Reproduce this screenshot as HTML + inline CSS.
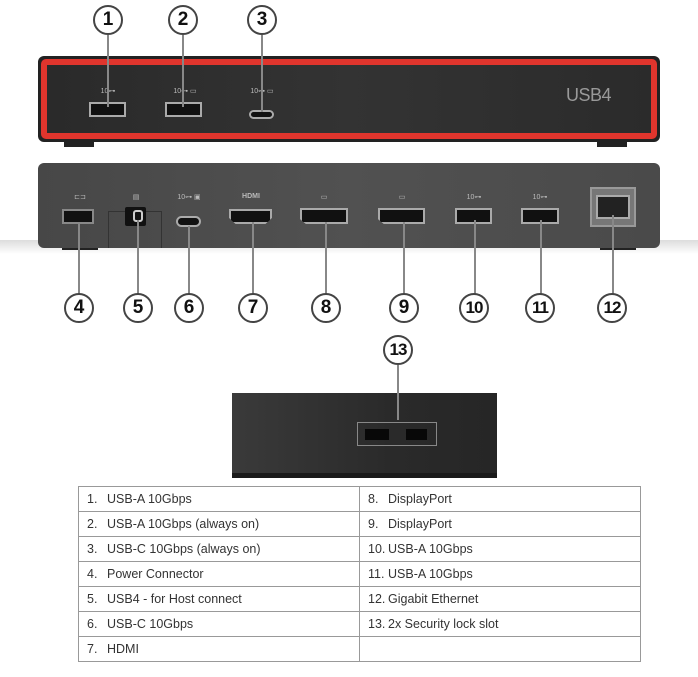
<!DOCTYPE html>
<html><head><style>
*{margin:0;padding:0;box-sizing:border-box}
body{width:698px;height:677px;background:#fff;position:relative;overflow:hidden;font-family:"Liberation Sans",sans-serif}
.a{position:absolute}
.c{position:absolute;width:30px;height:30px;border:2px solid #444;border-radius:50%;background:#fff;font:bold 19px "Liberation Sans",sans-serif;text-align:center;line-height:26px;color:#111}
.l{position:absolute;width:2px;background:#888}
.usb{position:absolute;background:#111;border:2px solid #aaa}
.ic{position:absolute;color:#bbb;font-size:7px;text-align:center}
table{position:absolute;left:78px;top:486px;border-collapse:collapse;font-size:12.5px;color:#333}
td{border:1px solid #999;height:25px;padding:0 0 0 8px;width:281px}
td span{display:inline-block;width:20px}
</style></head><body>
<!-- front device -->
<div class="a" style="left:64px;top:138px;width:30px;height:9px;background:#222"></div>
<div class="a" style="left:597px;top:138px;width:30px;height:9px;background:#222"></div>
<div class="a" style="left:38px;top:56px;width:622px;height:86px;background:#222;border-radius:6px"></div>
<div class="a" style="left:41px;top:59px;width:616px;height:80px;background:#e0352d;border-radius:5px"></div>
<div class="a" style="left:47px;top:65px;width:604px;height:68px;background:linear-gradient(90deg,#2a2a2a,#333 50%,#2b2b2b)"></div>
<div class="usb" style="left:89px;top:102px;width:37px;height:15px"></div>
<div class="usb" style="left:165px;top:102px;width:37px;height:15px"></div>
<div class="usb" style="left:249px;top:110px;width:25px;height:9px;border-radius:5px"></div>
<div class="ic" style="left:96px;top:87px;width:24px">10⊶</div>
<div class="ic" style="left:170px;top:87px;width:30px">10⊶ ▭</div>
<div class="ic" style="left:246px;top:87px;width:32px">10⊶ ▭</div>
<div class="a" style="left:566px;top:85px;font-size:18px;color:#999;font-weight:300;letter-spacing:-0.5px">USB4</div>
<div class="l" style="left:107px;top:35px;height:72px"></div>
<div class="l" style="left:182px;top:35px;height:72px"></div>
<div class="l" style="left:261px;top:35px;height:77px"></div>
<div class="c" style="left:93px;top:5px">1</div>
<div class="c" style="left:168px;top:5px">2</div>
<div class="c" style="left:247px;top:5px">3</div>
<!-- rear device -->
<div class="a" style="left:0;top:240px;width:698px;height:14px;background:linear-gradient(#ddd,#fff)"></div>
<div class="a" style="left:62px;top:244px;width:36px;height:6px;background:#222"></div>
<div class="a" style="left:600px;top:244px;width:36px;height:6px;background:#222"></div>
<div class="a" style="left:38px;top:163px;width:622px;height:85px;background:linear-gradient(90deg,#474747,#515151 50%,#4a4a4a);border-radius:6px"></div>
<div class="a" style="left:108px;top:211px;width:54px;height:37px;border:1px solid #333;border-bottom:none"></div>
<div class="usb" style="left:62px;top:209px;width:32px;height:15px;border-color:#888"></div>
<div class="a" style="left:125px;top:207px;width:21px;height:19px;background:#111;border-radius:2px"></div>
<div class="a" style="left:133px;top:210px;width:10px;height:12px;border:2px solid #ccc;border-radius:3px"></div>
<div class="usb" style="left:176px;top:216px;width:25px;height:11px;border-radius:6px"></div>
<div class="usb" style="left:229px;top:209px;width:43px;height:15px;clip-path:polygon(0 0,100% 0,100% 60%,85% 100%,15% 100%,0 60%)"></div>
<div class="usb" style="left:300px;top:208px;width:48px;height:16px;clip-path:polygon(0 0,100% 0,100% 100%,12% 100%,0 70%)"></div>
<div class="usb" style="left:378px;top:208px;width:47px;height:16px;clip-path:polygon(0 0,100% 0,100% 100%,12% 100%,0 70%)"></div>
<div class="usb" style="left:455px;top:208px;width:37px;height:16px"></div>
<div class="usb" style="left:521px;top:208px;width:38px;height:16px"></div>
<div class="a" style="left:590px;top:187px;width:46px;height:40px;background:#777;border:2px solid #999"></div>
<div class="a" style="left:596px;top:195px;width:34px;height:24px;background:#222;border:2px solid #aaa"></div>
<div class="ic" style="left:70px;top:193px;width:20px">⊏⊐</div>
<div class="ic" style="left:128px;top:193px;width:16px">▤</div>
<div class="ic" style="left:174px;top:193px;width:30px">10⊶ ▣</div>
<div class="ic" style="left:236px;top:193px;width:30px;font-weight:bold">HDMI</div>
<div class="ic" style="left:314px;top:193px;width:20px">▭</div>
<div class="ic" style="left:392px;top:193px;width:20px">▭</div>
<div class="ic" style="left:462px;top:193px;width:24px">10⊶</div>
<div class="ic" style="left:528px;top:193px;width:24px">10⊶</div>
<div class="l" style="left:78px;top:224px;height:70px"></div>
<div class="l" style="left:137px;top:220px;height:74px"></div>
<div class="l" style="left:188px;top:226px;height:68px"></div>
<div class="l" style="left:252px;top:222px;height:72px"></div>
<div class="l" style="left:325px;top:222px;height:72px"></div>
<div class="l" style="left:403px;top:222px;height:72px"></div>
<div class="l" style="left:474px;top:220px;height:74px"></div>
<div class="l" style="left:540px;top:220px;height:74px"></div>
<div class="l" style="left:612px;top:215px;height:79px"></div>
<div class="c" style="left:64px;top:293px">4</div>
<div class="c" style="left:123px;top:293px">5</div>
<div class="c" style="left:174px;top:293px">6</div>
<div class="c" style="left:238px;top:293px">7</div>
<div class="c" style="left:311px;top:293px">8</div>
<div class="c" style="left:389px;top:293px">9</div>
<div class="c" style="left:459px;top:293px;font-size:17px;letter-spacing:-1px">10</div>
<div class="c" style="left:525px;top:293px;font-size:17px;letter-spacing:-1px">11</div>
<div class="c" style="left:597px;top:293px;font-size:17px;letter-spacing:-1px">12</div>
<!-- side device -->
<div class="a" style="left:232px;top:393px;width:265px;height:85px;background:linear-gradient(90deg,#3a3a3a,#2a2a2a 60%,#262626)"></div>
<div class="a" style="left:232px;top:473px;width:265px;height:5px;background:#1a1a1a"></div>
<div class="a" style="left:357px;top:422px;width:80px;height:24px;border:1px solid #888"></div>
<div class="a" style="left:365px;top:429px;width:24px;height:11px;background:#080808"></div>
<div class="a" style="left:406px;top:429px;width:21px;height:11px;background:#080808"></div>
<div class="l" style="left:397px;top:365px;height:55px"></div>
<div class="c" style="left:383px;top:335px;font-size:17px;letter-spacing:-1px">13</div>
<table>
<tr><td><span>1.</span>USB-A 10Gbps</td><td><span>8.</span>DisplayPort</td></tr>
<tr><td><span>2.</span>USB-A 10Gbps (always on)</td><td><span>9.</span>DisplayPort</td></tr>
<tr><td><span>3.</span>USB-C 10Gbps (always on)</td><td><span>10.</span>USB-A 10Gbps</td></tr>
<tr><td><span>4.</span>Power Connector</td><td><span>11.</span>USB-A 10Gbps</td></tr>
<tr><td><span>5.</span>USB4 - for Host connect</td><td><span>12.</span>Gigabit Ethernet</td></tr>
<tr><td><span>6.</span>USB-C 10Gbps</td><td><span>13.</span>2x Security lock slot</td></tr>
<tr><td><span>7.</span>HDMI</td><td></td></tr>
</table>
</body></html>
